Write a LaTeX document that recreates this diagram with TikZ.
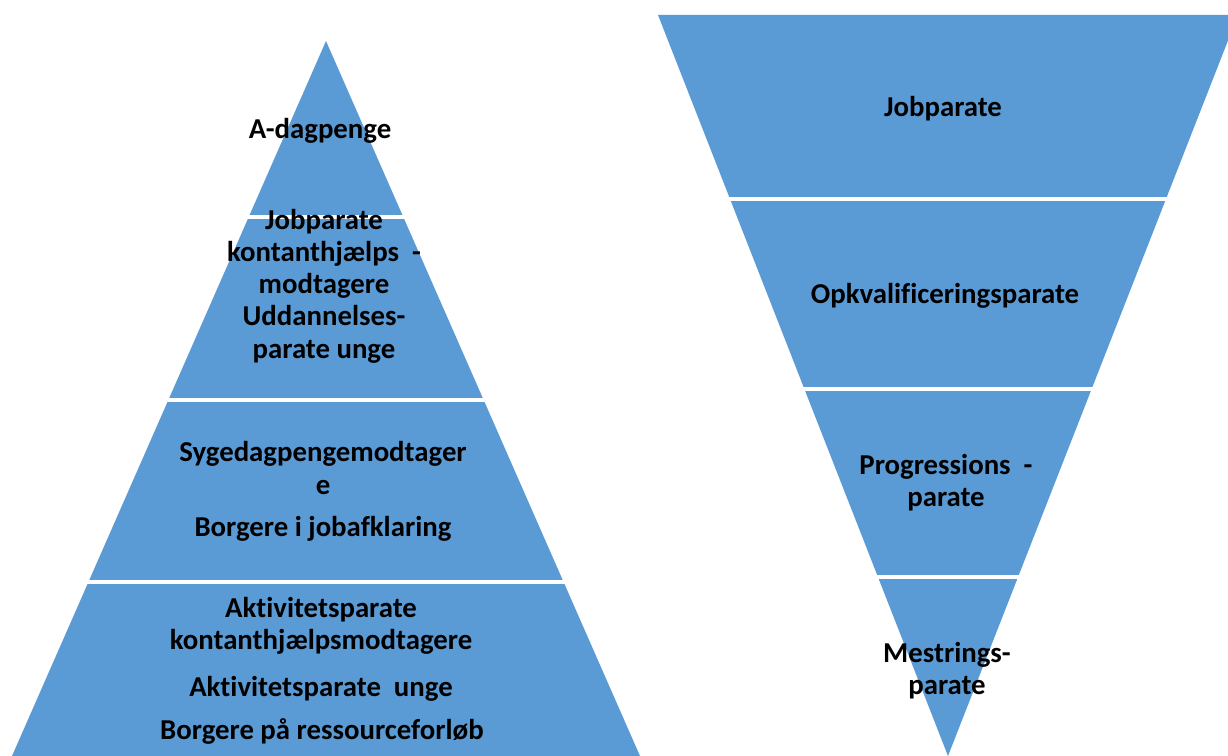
\documentclass[tikz,border=0pt]{standalone}
\usepackage{fontspec}
\setmainfont{Carlito}[Ligatures=NoCommon]
\definecolor{bandblue}{RGB}{91,155,213}
\tikzset{
  lbl/.style={font=\fontsize{21.6}{24.2}\selectfont\bfseries, align=center, inner sep=0pt, text=black},
  gap/.style={draw=white, line width=2.4pt}
}
\begin{document}
\begin{tikzpicture}[x=0.75pt,y=0.75pt,yscale=-1,xscale=1]
\useasboundingbox (0,0) rectangle (1228,756);
\clip (0,0) rectangle (1228,756);

%Shape: Triangle [left pyramid]
\draw [fill=bandblue, draw=none] (326,41) -- (640,756) -- (12,756) -- cycle ;
%Straight Lines [band gaps]
\draw [gap] (230,217) -- (420,217) ;
\draw [gap] (150,400) -- (500,400) ;
\draw [gap] (70,582) -- (580,582) ;

%Shape: Triangle [right funnel]
\draw [fill=bandblue, draw=none] (658,15) -- (1238,15) -- (948,756) -- cycle ;
%Straight Lines [band gaps]
\draw [gap] (715,199) -- (1180,199) ;
\draw [gap] (790,389) -- (1105,389) ;
\draw [gap] (865,577) -- (1030,577) ;

% Text Node
\draw (320,131) node (adag) [lbl] {A-dagpenge};
% Text Node
\draw (324,286) node (kontjob) [lbl] {Jobparate\\kontanthjælps\ \ -\\modtagere\\Uddannelses-\\parate unge};
% Text Node
\draw (323,468) node (syge) [lbl] {Sygedagpengemodtager\\e};
% Text Node
\draw (323,529) node (jobafk) [lbl] {Borgere i jobafklaring};
% Text Node
\draw (321,626) node (aktkont) [lbl] {Aktivitetsparate\\kontanthjælpsmodtagere};
% Text Node
\draw (321,689) node (aktunge) [lbl] {Aktivitetsparate\ \ unge};
% Text Node
\draw (322,731) node (ressource) [lbl] {Borgere på ressourceforløb};

% Text Node
\draw (943,109) node (jobp) [lbl] {Jobparate};
% Text Node
\draw (945,296) node (opkval) [lbl] {Opkvalificeringsparate};
% Text Node
\draw (946,483) node (progr) [lbl] {Progressions\ \ -\\parate};
% Text Node
\draw (947,671) node (mestr) [lbl] {Mestrings-\\parate};

\end{tikzpicture}
\end{document}
